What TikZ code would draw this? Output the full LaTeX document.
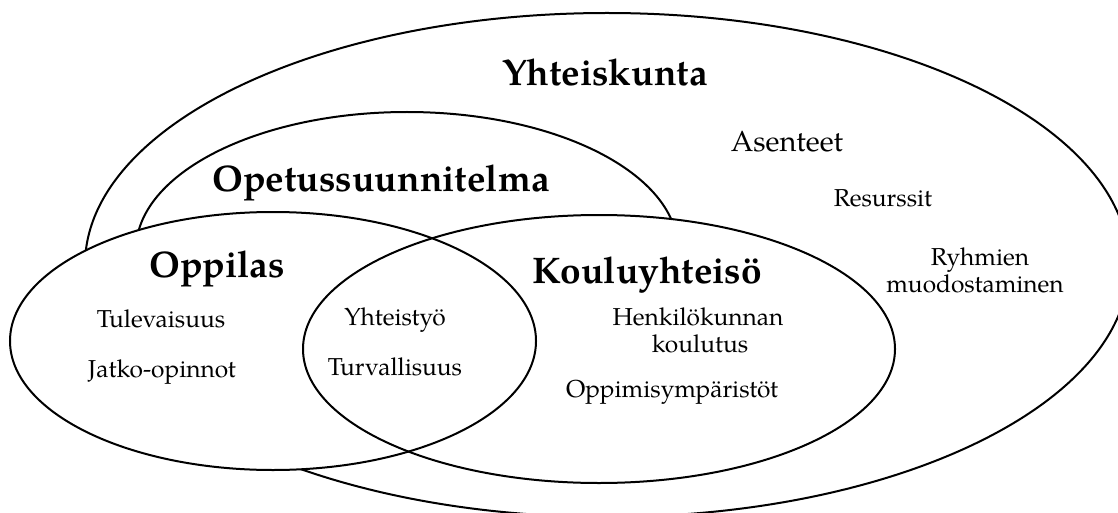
\documentclass[tikz,border=0pt]{standalone}
\usepackage{fontspec}
\setmainfont{TeX Gyre Pagella}
\tikzset{
  ring/.style={line width=2pt, draw=black},
  bigtext/.style={font=\fontsize{37}{40}\selectfont\bfseries, anchor=base, inner sep=0pt},
  midtext/.style={font=\fontsize{29}{32}\selectfont, anchor=base, inner sep=0pt},
  smalltext/.style={font=\fontsize{24.5}{27}\selectfont, anchor=base, inner sep=0pt, align=center},
}
\begin{document}
\begin{tikzpicture}[x=1pt,y=-1pt]
\useasboundingbox (0,0) rectangle (1118,513);
\clip (0,0) rectangle (1118,513);
% Yhteiskunta
\draw[ring] (607,265) ellipse [x radius=522pt, y radius=252pt];
% Opetussuunnitelma
\draw[ring, fill=white] (407,250) ellipse [x radius=271pt, y radius=138pt];
% Oppilas and Kouluyhteiso
\fill[white] (273,341) ellipse [x radius=263pt, y radius=129pt];
\fill[white] (599,349) ellipse [x radius=296pt, y radius=134pt];
\draw[ring] (273,341) ellipse [x radius=263pt, y radius=129pt];
\draw[ring] (599,349) ellipse [x radius=296pt, y radius=134pt];

\node[bigtext] (yht) at (605,86) {Yhteiskunta};
\node[bigtext] (ops) at (381,192) {Opetussuunnitelma};
\node[bigtext] (opp) at (217,277) {Oppilas};
\node[bigtext] (kou) at (647,283) {Kouluyhteisö};

\node[midtext] (ase) at (787,152) {Asenteet};
\node[smalltext] (res) at (883,206) {Resurssit};
\node[smalltext] (ryh) at (980,265) {Ryhmien};
\node[smalltext] (muo) at (975,292) {muodostaminen};

\node[smalltext] (tul) at (161,327) {Tulevaisuus};
\node[smalltext] (jat) at (162,377) {Jatko-opinnot};
\node[smalltext] (yty) at (395,325) {Yhteistyö};
\node[smalltext] (tur) at (395,375) {Turvallisuus};

\node[smalltext] (hen) at (698,325) {Henkilökunnan};
\node[smalltext] (kok) at (700,352) {koulutus};
\node[smalltext] (opy) at (672,397) {Oppimisympäristöt};
\end{tikzpicture}
\end{document}
